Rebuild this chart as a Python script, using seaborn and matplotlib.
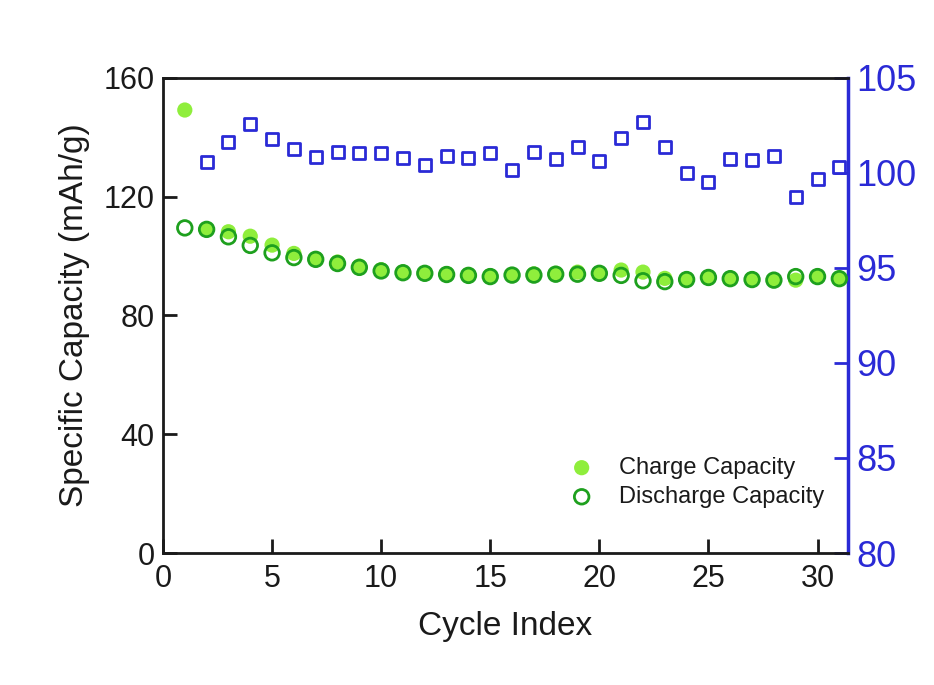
import matplotlib
matplotlib.use("Agg")
import matplotlib.pyplot as plt
import seaborn as sns
import pandas as pd

cycles = list(range(1, 32))
charge = [149.2, 109.0, 108.2, 106.7, 103.7, 100.9, 99.2, 98.0, 96.6, 95.4,
          94.6, 94.3, 94.1, 93.8, 93.4, 93.8, 94.0, 94.2, 94.6, 94.4,
          95.3, 94.6, 92.5, 92.3, 92.9, 92.6, 92.3, 92.0, 91.9, 93.2, 92.5]
discharge = [109.5, 109.0, 106.5, 103.6, 101.1, 99.5, 98.9, 97.5, 96.2, 95.0,
             94.4, 94.2, 93.8, 93.5, 93.1, 93.6, 93.6, 93.9, 93.9, 94.2,
             93.5, 91.7, 91.4, 92.1, 92.8, 92.4, 92.1, 91.9, 93.1, 93.1, 92.4]
eff_cycles = list(range(2, 32))
efficiency = [100.56, 101.65, 102.56, 101.79, 101.28, 100.83, 101.09, 101.04, 101.07,
              100.77, 100.42, 100.91, 100.77, 101.07, 100.16, 101.09, 100.72, 101.39,
              100.65, 101.86, 102.67, 101.39, 99.98, 99.54, 100.74, 100.68, 100.91,
              98.75, 99.68, 100.30]

sns.set_theme(style="white")
plt.rcParams['font.family'] = ['Liberation Sans Narrow', 'Liberation Sans', 'DejaVu Sans']
plt.rcParams['text.color'] = '#1a1a1a'
plt.rcParams['axes.labelcolor'] = '#1a1a1a'

df = pd.DataFrame({"cycle": cycles, "charge": charge, "discharge": discharge})
dfe = pd.DataFrame({"cycle": eff_cycles, "eff": efficiency})

fig = plt.figure(figsize=(9.34, 6.85), dpi=100)
ax = fig.add_axes([0.1745, 0.1927, 0.7335, 0.6935])

charge_c = "#8fee3c"
dis_c = "#1ea01e"
blue = "#2a2ad6"

sns.scatterplot(data=df, x="cycle", y="charge", ax=ax, s=120, color=charge_c,
                edgecolor="none", marker="o", label="Charge Capacity", zorder=3)
sns.scatterplot(data=df, x="cycle", y="discharge", ax=ax, s=110, facecolor="none",
                edgecolor=dis_c, linewidth=2, marker="o", label="Discharge Capacity", zorder=4)

ax.set_xlim(0, 31.4)
ax.set_ylim(0, 160)
ax.set_xticks([0, 5, 10, 15, 20, 25, 30])
ax.set_yticks([0, 40, 80, 120, 160])
ax.set_xlabel("Cycle Index", fontsize=24, labelpad=12)
ax.set_ylabel("Specific Capacity (mAh/g)", fontsize=24, labelpad=10)
ax.tick_params(axis='both', direction='in', length=10, width=2, labelsize=22,
               colors='#1a1a1a', bottom=True, left=True, top=False, right=False)
ax.tick_params(axis='x', pad=8)
ax.tick_params(axis='y', pad=6)
for k in ['left', 'top', 'bottom']:
    ax.spines[k].set_color("#1a1a1a")
    ax.spines[k].set_linewidth(2)
ax.spines['right'].set_visible(False)

ax2 = ax.twinx()
sns.scatterplot(data=dfe, x="cycle", y="eff", ax=ax2, s=75, marker="s", facecolor="white",
                edgecolor=blue, linewidth=2, zorder=3)
ax2.set_ylim(80, 105)
ax2.set_yticks([80, 85, 90, 95, 100, 105])
ax2.set_ylabel("")
ax2.tick_params(axis='y', direction='in', length=10, width=2, labelsize=26,
                colors=blue, labelcolor=blue, pad=6, right=True, left=False)
ax2.spines['right'].set_color(blue)
ax2.spines['right'].set_linewidth(2.5)
for k in ['left', 'top', 'bottom']:
    ax2.spines[k].set_visible(False)

leg = ax.legend(loc="lower right", bbox_to_anchor=(0.99, 0.06), frameon=False,
                fontsize=17, handletextpad=0.6, labelspacing=0.3, borderpad=0.2)
ax.set_zorder(ax2.get_zorder() + 1)
ax.patch.set_visible(False)

fig.savefig("out.png", dpi=100)
